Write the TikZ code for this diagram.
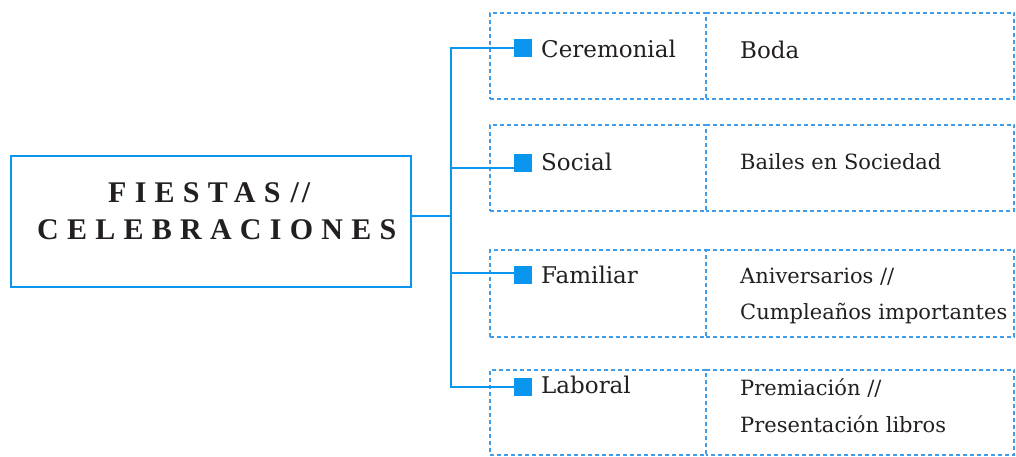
\documentclass[tikz,border=0pt]{standalone}
\usepackage{fontspec}
\setmainfont{DejaVu Serif}
\newfontfamily\titlefont[LetterSpace=27.5]{Liberation Serif}
\newfontfamily\titleplain{Liberation Serif}
\definecolor{bl}{HTML}{0A96EE}
\definecolor{dbl}{HTML}{3F9CEA}
\definecolor{txt}{HTML}{231F20}
\tikzset{
  mainbox/.style={draw=bl, line width=2.4pt, rectangle, minimum width=400pt, minimum height=131pt, inner sep=0pt},
  ttl/.style={font=\titlefont\bfseries\fontsize{30}{30}\selectfont, text=txt, inner sep=0pt},
  conn/.style={draw=bl, line width=2pt},
  sq/.style={fill=bl, minimum size=18pt, inner sep=0pt, rectangle},
  dsh/.style={draw=dbl, line width=2pt, dash pattern=on 4pt off 3pt},
  cellL/.style={dsh, rectangle, minimum width=216pt, inner sep=0pt},
  cellR/.style={rectangle, minimum width=308pt, inner sep=0pt},
  labL/.style={font=\fontsize{23}{23}\selectfont, text=txt, inner sep=0pt, anchor=base west},
  labR/.style={font=\fontsize{21}{21}\selectfont, text=txt, inner sep=0pt, anchor=base west},
}
\begin{document}
\begin{tikzpicture}[x=1pt,y=-1pt]
\useasboundingbox (0,0) rectangle (1016,457);
% dashed cells
\node[cellL, minimum height=86pt] (c1l) at (598,56) {};
\node[cellR, minimum height=86pt] (c1r) at (860,56) {};
\node[cellL, minimum height=86pt] (c2l) at (598,168) {};
\node[cellR, minimum height=86pt] (c2r) at (860,168) {};
\node[cellL, minimum height=87pt] (c3l) at (598,293.5) {};
\node[cellR, minimum height=87pt] (c3r) at (860,293.5) {};
\node[cellL, minimum height=85pt] (c4l) at (598,412.5) {};
\node[cellR, minimum height=85pt] (c4r) at (860,412.5) {};
\foreach \c in {c1r,c2r,c3r,c4r}{
  \draw[dsh] (\c.north west) -- (\c.north east) -- (\c.south east) -- (\c.south west);
}
% main box
\node[mainbox] (main) at (211,221.5) {};
\node[ttl, anchor=base west] (t1) at (108,202) {FIESTAS\hspace{10pt}{\titleplain\bfseries/\hspace{3pt}/}};
\node[ttl, anchor=base west] (t2) at (37,239) {CELEBRACIONES};
% squares
\node[sq] (s1) at (523,48) {};
\node[sq] (s2) at (523,163.5) {};
\node[sq] (s3) at (523,275) {};
\node[sq] (s4) at (523,387) {};
% connectors
\coordinate (j) at (451,216);
\draw[conn] (main.east |- j) -- (j);
\draw[conn] (j) |- (s1.west);
\draw[conn] (j) |- ([yshift=-5pt]s2.west);
\draw[conn] (j) |- ([yshift=2pt]s3.west);
\draw[conn] (j) |- (s4.west);
% labels
\node[labL] (l1) at (541,58) {Ceremonial};
\node[labL] (l2) at (541,171) {Social};
\node[labL] (l3) at (541,283) {Familiar};
\node[labL] (l4) at (541,393) {Laboral};
\node[labR, font=\fontsize{23}{23}\selectfont] (r1) at (740,59) {Boda};
\node[labR] (r2) at (740,170) {Bailes en Sociedad};
\node[labR] (r3a) at (740,283) {Aniversarios //};
\node[labR] (r3b) at (740,319) {Cumpleaños importantes};
\node[labR] (r4a) at (740,395) {Premiación //};
\node[labR] (r4b) at (740,432) {Presentación libros};
\end{tikzpicture}
\end{document}
